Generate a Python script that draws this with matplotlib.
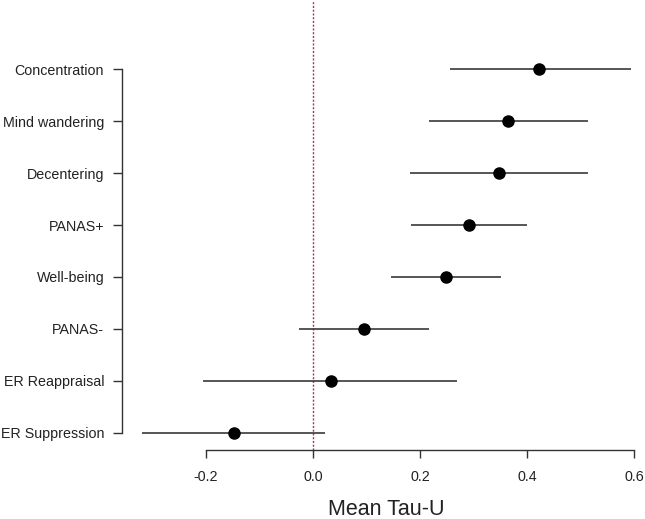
import matplotlib
matplotlib.use("Agg")
import matplotlib.pyplot as plt

# outcome measures, top to bottom
labels = ["Concentration", "Mind wandering", "Decentering", "PANAS+",
          "Well-being", "PANAS-", "ER Reappraisal", "ER Suppression"]
mean_tau = [0.422, 0.364, 0.347, 0.291, 0.248, 0.095, 0.033, -0.148]
ci_low = [0.255, 0.216, 0.180, 0.183, 0.146, -0.026, -0.205, -0.320]
ci_high = [0.594, 0.514, 0.513, 0.400, 0.350, 0.216, 0.269, 0.022]
xticks = [-0.2, 0.0, 0.2, 0.4, 0.6]

plt.rcParams["font.family"] = ["Liberation Sans", "DejaVu Sans"]

W, H = 645, 519
fig = plt.figure(figsize=(W / 100, H / 100), dpi=100)
# plot region in pixels (R style, slightly past the right edge)
left_px, right_px, bottom_px, top_px = 122, 651, 450, 0
ax = fig.add_axes([left_px / W, 1 - bottom_px / H,
                   (right_px - left_px) / W, (bottom_px - top_px) / H])

n = len(labels)
ypos = list(range(n, 0, -1))

ax.axvline(0, color="#a8394a", lw=1.0, linestyle=(0, (1.5, 1.2)), zorder=1)
ax.hlines(ypos, ci_low, ci_high, color="#3a3a3a", lw=1.2, zorder=2)
ax.plot(mean_tau, ypos, "o", color="black", ms=8, zorder=3)

ax.set_xlim(-0.357, 0.631)
ax.set_ylim(0.667, 9.335)

for s in ["top", "right"]:
    ax.spines[s].set_visible(False)
ax.spines["left"].set_bounds(1, n)
ax.spines["bottom"].set_bounds(-0.2, 0.6)
for s in ["left", "bottom"]:
    ax.spines[s].set_color("#333333")
    ax.spines[s].set_linewidth(1.0)

ax.set_yticks(ypos)
ax.set_yticklabels(labels, fontsize=10.3, color="#222222")
ax.set_xticks(xticks)
ax.set_xticklabels(["%.1f" % t for t in xticks], fontsize=10.3, color="#222222")
ax.tick_params(axis="y", length=6.8, width=1.0, color="#333333", pad=6)
ax.tick_params(axis="x", length=5.5, width=1.0, color="#333333", pad=9)

ax.set_xlabel("Mean Tau-U", fontsize=15.5, color="#222222", labelpad=11)

fig.savefig("out.png", dpi=100)
